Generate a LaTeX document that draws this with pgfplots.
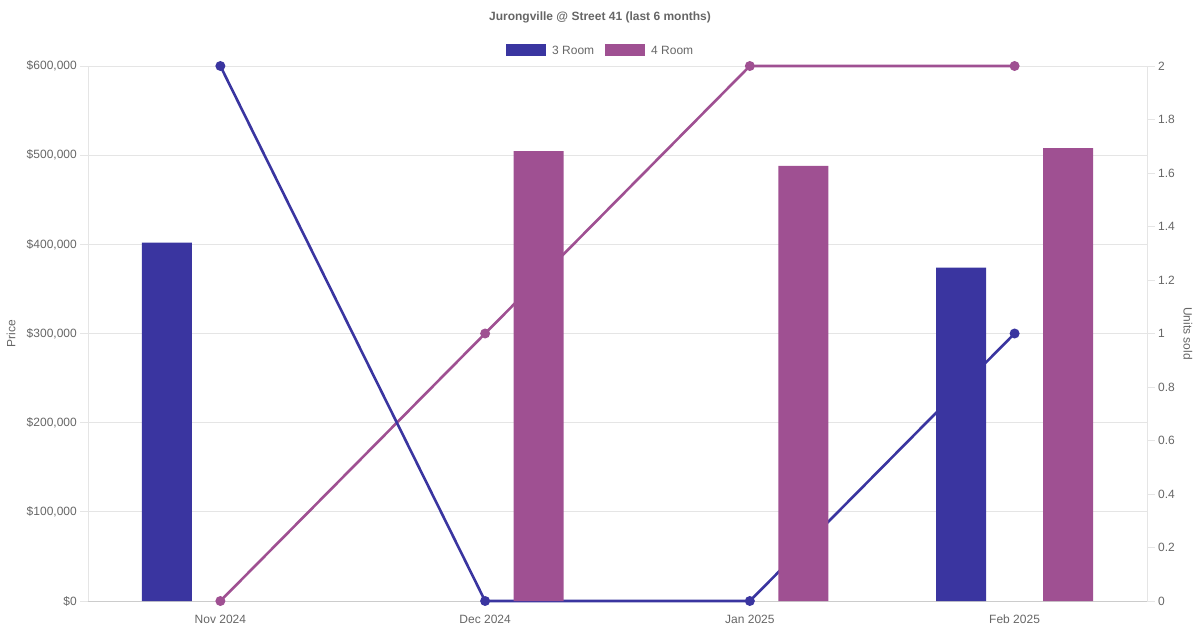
\documentclass[border=0pt]{standalone}
\usepackage{pgfplots}
\pgfplotsset{compat=1.18}
\usepackage{fontspec}
\setmainfont{Liberation Sans}
\definecolor{roomA}{RGB}{58,53,160}
\definecolor{roomB}{RGB}{159,80,146}
\definecolor{txt}{RGB}{102,102,102}
\definecolor{gridc}{RGB}{229,229,229}
\definecolor{axc}{RGB}{204,204,204}
\begin{document}
\begin{tikzpicture}[font=\fontsize{12}{14}\selectfont]
\path[use as bounding box] (-88pt,-29pt) rectangle (1112pt,601pt);
% left axis with grid
\begin{axis}[
  at={(0,0)}, anchor=south west,
  scale only axis, width=1059pt, height=535pt,
  xmin=-0.5, xmax=3.5, ymin=0, ymax=600000,
  axis x line*=bottom, axis y line*=left,
  x axis line style={draw=axc,-},
  y axis line style={draw=gridc,-},
  xtick={0,1,2,3},
  xticklabels={Nov 2024,Dec 2024,Jan 2025,Feb 2025},
  x tick style={draw=none},
  xticklabel style={text=txt, inner sep=0pt, anchor=north, yshift=-6pt},
  ytick={0,100000,200000,300000,400000,500000,600000},
  yticklabels={\$0,{\$100,000},{\$200,000},{\$300,000},{\$400,000},{\$500,000},{\$600,000}},
  scaled y ticks=false,
  tick align=outside, major tick length=8pt,
  y tick style={draw=gridc, line width=0.8pt},
  yticklabel style={text=txt, inner sep=0pt, xshift=-3pt},
  ymajorgrids, major grid style={draw=gridc, line width=0.8pt},
  ylabel={Price},
  ylabel style={at={(axis description cs:-0.0727,0.5)}, anchor=center, text=txt},
]
\end{axis}
% right axis with lines
\begin{axis}[
  at={(0,0)}, anchor=south west,
  scale only axis, width=1059pt, height=535pt,
  xmin=-0.5, xmax=3.5, ymin=0, ymax=2,
  axis x line=none, axis y line*=right,
  y axis line style={draw=gridc,-},
  ytick={0,0.2,0.4,0.6,0.8,1,1.2,1.4,1.6,1.8,2},
  yticklabels={0,0.2,0.4,0.6,0.8,1,1.2,1.4,1.6,1.8,2},
  tick align=outside, major tick length=8pt,
  y tick style={draw=gridc, line width=0.8pt},
  yticklabel style={text=txt, inner sep=0pt, xshift=3pt},
  ylabel={Units sold},
  ylabel style={at={(axis description cs:1.0387,0.5)}, anchor=center, rotate=180, text=txt},
  clip=false,
]
\addplot[color=roomB, line width=2.6pt, mark=*, mark size=3.6pt, mark options={draw=none, fill=roomB}] coordinates {(0,0) (1,1) (2,2) (3,2)};
\addplot[color=roomA, line width=2.6pt, mark=*, mark size=3.6pt, mark options={draw=none, fill=roomA}] coordinates {(0,2) (1,0) (2,0) (3,1)};
\end{axis}
% bars on top
\begin{axis}[
  at={(0,0)}, anchor=south west,
  scale only axis, width=1059pt, height=535pt,
  xmin=-0.5, xmax=3.5, ymin=0, ymax=600000,
  hide axis,
]
\addplot[ybar, bar width=50pt, bar shift=-53.5pt, fill=roomA, draw=none] coordinates {(0,402000) (3,374000)};
\addplot[ybar, bar width=50pt, bar shift=53.5pt, fill=roomB, draw=none] coordinates {(1,504500) (2,488000) (3,508000)};
\end{axis}
% title
\node[font=\fontsize{12}{14}\selectfont\bfseries, text=txt] at (512pt,584pt) {Jurongville @ Street 41 (last 6 months)};
% legend
\fill[roomA] (418pt,545pt) rectangle (458pt,557pt);
\node[anchor=west, inner sep=0pt, text=txt] at (464pt,551pt) {3 Room};
\fill[roomB] (517pt,545pt) rectangle (557pt,557pt);
\node[anchor=west, inner sep=0pt, text=txt] at (563pt,551pt) {4 Room};
\end{tikzpicture}
\end{document}
